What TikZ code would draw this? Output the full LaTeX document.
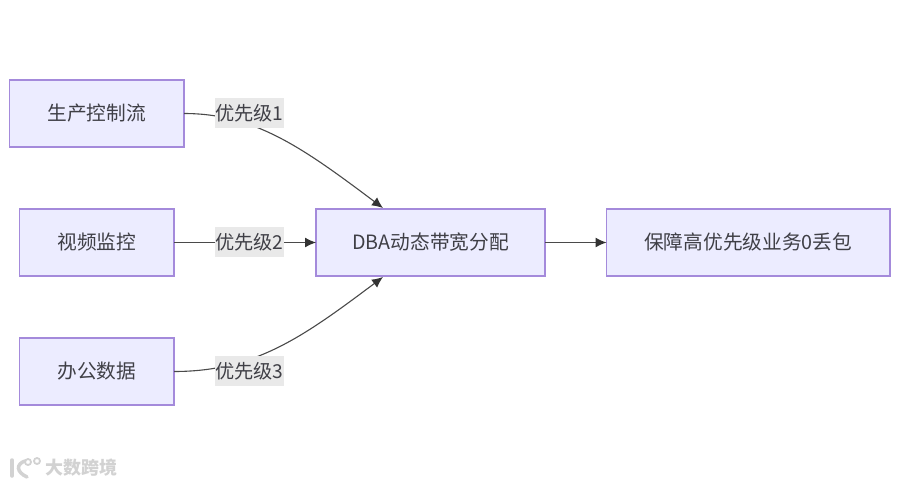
\documentclass[tikz,border=0pt]{standalone}
\usepackage{fontspec}
\setmainfont{Noto Sans CJK SC}
\usetikzlibrary{arrows.meta}
\definecolor{boxfill}{HTML}{ECECFF}
\definecolor{boxline}{HTML}{A48ADB}
\definecolor{inkc}{HTML}{3F3F46}
\definecolor{edgec}{HTML}{4A4A4A}
\definecolor{labelbg}{HTML}{E9E9E9}
\definecolor{wm}{HTML}{D2D2D2}
\newcommand{\liftup}[1]{\raisebox{0.8pt}{#1}}
\tikzset{
  x=1pt,y=-1pt,
  flowbox/.style={draw=boxline,fill=boxfill,line width=1.35pt,inner sep=0pt,outer sep=0pt,text=inkc,font=\fontsize{19.7}{22}\selectfont,anchor=north west},
  edgelabel/.style={fill=labelbg,text=inkc,inner sep=0pt,minimum width=69pt,minimum height=30pt,font=\fontsize{19.2}{22}\selectfont},
  link/.style={draw=edgec,line width=1.1pt,-{Latex[length=11pt,width=10pt,color=black!80]}},
  wmstroke/.style={draw=wm,line width=3.5pt,line cap=round},
  wmthin/.style={draw=wm,line width=1.8pt},
}
\begin{document}
\begin{tikzpicture}
\useasboundingbox (0,0) rectangle (900,485);
\fill[white] (0,0) rectangle (900,485);
\node[flowbox,minimum width=174.5pt,minimum height=67pt] (a) at (9.5,80) {\liftup{生产控制流}};
\node[flowbox,minimum width=154.5pt,minimum height=67pt] (b) at (19.5,209) {\liftup{视频监控}};
\node[flowbox,minimum width=154.5pt,minimum height=67pt] (c) at (19.5,338) {\liftup{办公数据}};
\node[flowbox,minimum width=229pt,minimum height=67pt] (d) at (316,209) {\liftup{DBA动态带宽分配}};
\node[flowbox,minimum width=283.5pt,minimum height=67pt] (e) at (606.5,209) {\liftup{保障高优先级业务0丢包}};
\coordinate (dtop) at (383,208);
\coordinate (dbot) at (383,277);
\draw[link] (a.east) .. controls (255,113.5) and (303,148) .. (dtop);
\draw[link] (b.east) -- (d.west);
\draw[link] (c.east) .. controls (255,371.5) and (303,337) .. (dbot);
\draw[link] (d.east) -- (e.west);
\node[edgelabel] (la) at (249.5,113) {优先级1};
\node[edgelabel] (lb) at (249.5,242) {优先级2};
\node[edgelabel] (lc) at (249.5,371) {优先级3};
\node[text=wm,inner sep=0pt,font=\fontsize{18}{20}\bfseries\selectfont] (wmark) at (81,468) {大数跨境};
\draw[wmstroke] (12,460) -- (12,476);
\draw[wmstroke] (25,461) .. controls (16,464) and (16,472) .. (27,477);
\draw[wmthin] (28,462) circle (3pt);
\draw[wmthin] (37,461) circle (3pt);
\end{tikzpicture}
\end{document}
